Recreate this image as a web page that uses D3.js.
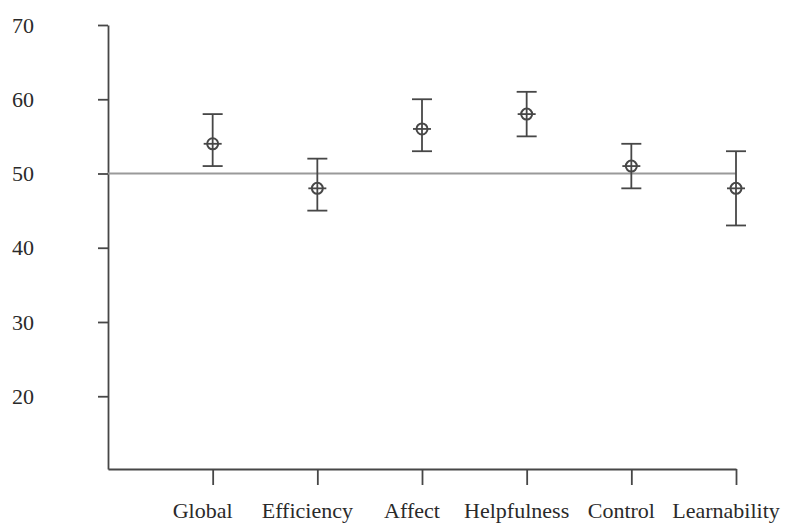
<!DOCTYPE html>
<html>
<head>
<meta charset="utf-8">
<script src="https://cdn.jsdelivr.net/npm/d3@7"></script>
<style>
  body { margin: 0; background: #fff; }
  text { font-family: "Liberation Serif", "Times New Roman", serif; }
</style>
</head>
<body>
<div class="viz"></div>
<script>
const w = 801;
const h = 524;

// values
const categories = ["Global", "Efficiency", "Affect", "Helpfulness", "Control", "Learnability"];
const means = [54, 48, 56, 58, 51, 48];
const upper = [58, 52, 60, 61, 54, 53];
const lower = [51, 45, 53, 55, 48, 43];
const yTicks = [20, 30, 40, 50, 60, 70];
const refValue = 50;

const svg = d3.select(".viz")
    .append("svg")
    .attr("width", w)
    .attr("height", h);

const x = d3.scalePoint()
    .domain(categories)
    .range([108, 736])
    .padding(0.5)
    .align(1);

const y = d3.scaleLinear()
    .domain([10.2, 70])
    .range([469, 25]);

const points = categories.map((c, i) => ({
    cat: c, mean: means[i], hi: upper[i], lo: lower[i]
}));

// axes
const yAxis = svg.append("g")
    .attr("transform", "translate(108,0)")
    .call(d3.axisLeft(y).tickValues(yTicks).tickSize(10).tickSizeOuter(0).tickPadding(64));

const xAxis = svg.append("g")
    .attr("transform", "translate(0,469)")
    .call(d3.axisBottom(x).tickSize(16).tickSizeOuter(0).tickFormat(""));

[yAxis, xAxis].forEach(g => {
    g.selectAll("path, line").attr("stroke", "#474747").attr("stroke-width", 1.8);
});

yAxis.selectAll("text")
    .attr("fill", "#2a2a2a")
    .style("font-size", "22px")
    .style("font-family", "'Liberation Serif', serif");

// category labels, sitting a little left of their ticks
svg.append("g")
    .selectAll("text")
    .data(categories)
    .enter()
    .append("text")
    .attr("x", d => x(d) - 10)
    .attr("y", 518)
    .attr("text-anchor", "middle")
    .attr("fill", "#2a2a2a")
    .style("font-size", "22px")
    .text(d => d);

// reference line at 50
svg.append("line")
    .attr("x1", 108)
    .attr("x2", x(categories[categories.length - 1]))
    .attr("y1", y(refValue))
    .attr("y2", y(refValue))
    .attr("stroke", "#9a9a9a")
    .attr("stroke-width", 2);

// error bars
const bars = svg.append("g")
    .selectAll("g")
    .data(points)
    .enter()
    .append("g")
    .attr("stroke", "#474747")
    .attr("stroke-width", 1.8)
    .attr("fill", "none");

bars.append("line")
    .attr("x1", d => x(d.cat)).attr("x2", d => x(d.cat))
    .attr("y1", d => y(d.hi)).attr("y2", d => y(d.lo));

bars.append("line")
    .attr("x1", d => x(d.cat) - 10).attr("x2", d => x(d.cat) + 10)
    .attr("y1", d => y(d.hi)).attr("y2", d => y(d.hi));

bars.append("line")
    .attr("x1", d => x(d.cat) - 10).attr("x2", d => x(d.cat) + 10)
    .attr("y1", d => y(d.lo)).attr("y2", d => y(d.lo));

// mean markers
bars.append("circle")
    .attr("cx", d => x(d.cat))
    .attr("cy", d => y(d.mean))
    .attr("r", 5.5)
    .attr("stroke-width", 2);

bars.append("line")
    .attr("x1", d => x(d.cat) - 9).attr("x2", d => x(d.cat) + 9)
    .attr("y1", d => y(d.mean)).attr("y2", d => y(d.mean));
</script>
</body>
</html>
